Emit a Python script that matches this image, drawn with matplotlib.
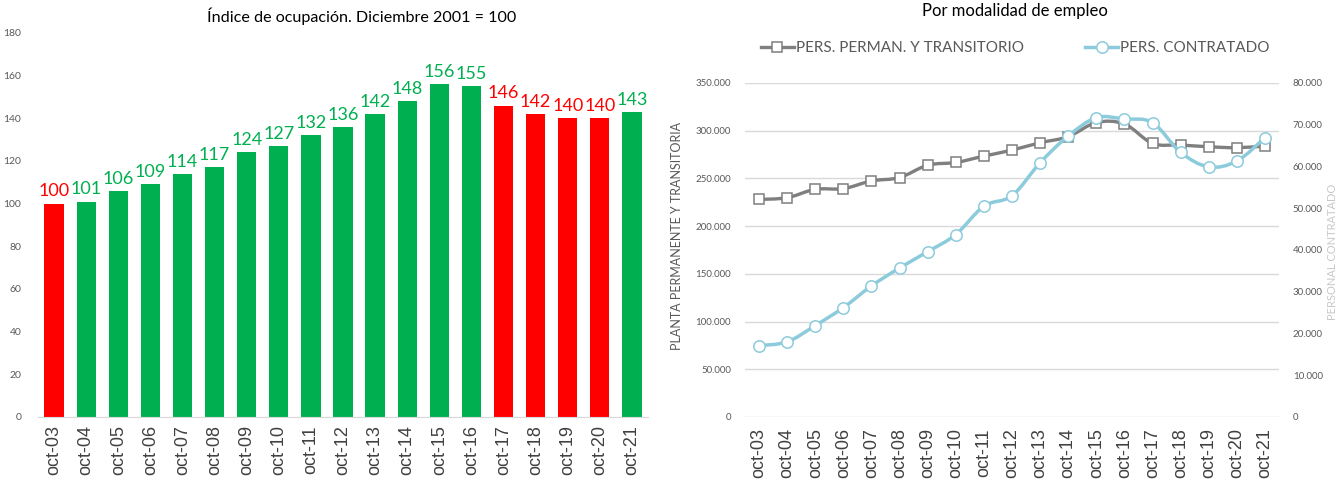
import matplotlib
matplotlib.use("Agg")
import matplotlib.pyplot as plt
import numpy as np
from matplotlib.path import Path
from matplotlib.patches import PathPatch
from matplotlib.ticker import FuncFormatter
from matplotlib.lines import Line2D

# datos
periodos = ["oct-03", "oct-04", "oct-05", "oct-06", "oct-07", "oct-08", "oct-09", "oct-10",
            "oct-11", "oct-12", "oct-13", "oct-14", "oct-15", "oct-16", "oct-17", "oct-18",
            "oct-19", "oct-20", "oct-21"]
indice = [100, 101, 106, 109, 114, 117, 124, 127, 132, 136, 142, 148, 156, 155, 146, 142, 140, 140, 143]
baja = [True, False, False, False, False, False, False, False, False, False, False, False,
        False, False, True, True, True, True, False]  # en rojo

perm_trans = [228000, 229800, 238600, 239300, 247400, 250900, 263900, 266700, 273400, 279700,
              287400, 293800, 308500, 307100, 286700, 285000, 283200, 282200, 283900]
contratado = [17100, 18000, 21900, 26200, 31400, 35700, 39600, 43700, 50500, 53000,
              60900, 67300, 71700, 71400, 70500, 63400, 59900, 61300, 66900]

VERDE = "#00B050"
ROJO = "#FF0000"
GRIS = "#7F7F7F"
CELESTE = "#8CCBDB"
TXT = "#595959"
FONT = ["Lato", "DejaVu Sans"]
FONT_X = ["Liberation Sans", "DejaVu Sans"]

plt.rcParams['font.family'] = FONT


def miles(v, pos=None):
    return f"{int(round(v)):,}".replace(",", ".")


def curva(ax, xs, ys, color, lw):
    # linea suavizada tipo excel (bezier por los puntos)
    pts = np.column_stack([xs, ys]).astype(float)
    n = len(pts)
    verts = [pts[0]]
    codes = [Path.MOVETO]
    for i in range(n - 1):
        p0 = pts[i - 1] if i > 0 else pts[i]
        p1 = pts[i]
        p2 = pts[i + 1]
        p3 = pts[i + 2] if i + 2 < n else pts[i + 1]
        verts += [p1 + (p2 - p0) / 6, p2 - (p3 - p1) / 6, p2]
        codes += [Path.CURVE4] * 3
    patch = PathPatch(Path(verts, codes), facecolor="none", edgecolor=color, lw=lw,
                      capstyle="round", joinstyle="round", zorder=3)
    ax.add_patch(patch)


fig = plt.figure(figsize=(13.4, 4.92), dpi=100)
W, H = 1340, 492

# ---- grafico izquierdo: indice
ax1 = fig.add_axes([38 / W, 1 - 417 / H, 610 / W, 384 / H])
x = np.arange(len(periodos))
colores = [ROJO if b else VERDE for b in baja]
ax1.bar(x, indice, width=0.6, color=colores, zorder=2)
for xi, v, c in zip(x, indice, colores):
    ax1.text(xi, v + 2.0, str(v), ha="center", va="bottom", color=c, fontsize=13)
ax1.set_xlim(-0.5, len(periodos) - 0.5)
ax1.set_ylim(0, 180)
ax1.set_yticks(range(0, 181, 20))
ax1.set_xticks(x)
ax1.set_xticklabels(periodos, rotation=90, fontsize=13, color="#404040", family=FONT_X)
for s in ["top", "right", "left"]:
    ax1.spines[s].set_visible(False)
ax1.spines["bottom"].set_color("#D9D9D9")
ax1.tick_params(axis="both", length=0)
ax1.tick_params(axis="y", labelsize=7.5, labelcolor=TXT, pad=12)
ax1.tick_params(axis="x", pad=6)
fig.text(362 / W, 1 - 16 / H, "Índice de ocupación. Diciembre 2001 = 100", ha="center", va="center",
         fontsize=11.6, color="#000000")

# ---- grafico derecho: modalidad de empleo
ax2 = fig.add_axes([745 / W, 1 - 417 / H, 534 / W, 334 / H])
ax3 = ax2.twinx()
ax2.set_xlim(-0.5, len(periodos) - 0.5)
ax2.set_ylim(0, 350000)
ax3.set_ylim(0, 80000)
ax2.set_yticks(range(0, 350001, 50000))
ax3.set_yticks(range(0, 80001, 10000))
ax2.yaxis.set_major_formatter(FuncFormatter(miles))
ax3.yaxis.set_major_formatter(FuncFormatter(miles))
ax2.grid(axis="y", color="#D9D9D9", lw=1)
ax2.set_axisbelow(True)
for a in (ax2, ax3):
    for s in a.spines.values():
        s.set_visible(False)
    a.tick_params(axis="both", length=0)
    a.tick_params(axis="y", labelsize=7, labelcolor=TXT, pad=10)
ax2.set_xticks(x)
ax2.set_xticklabels(periodos, rotation=90, fontsize=13, color="#404040", family=FONT_X)
ax2.tick_params(axis="x", pad=8)

curva(ax2, x, perm_trans, GRIS, 2.4)
ax2.plot(x, perm_trans, ls="none", marker="s", ms=7.5, mfc="white", mec=GRIS, mew=1.1, zorder=4)
curva(ax3, x, contratado, CELESTE, 2.5)
ax3.plot(x, contratado, ls="none", marker="o", ms=8.2, mfc="white", mec=CELESTE, mew=1.1, zorder=4)

ax2.set_ylabel("PLANTA PERMANENTE Y TRANSITORIA", fontsize=9, color=TXT)
ax2.yaxis.set_label_coords(-62 / 534, (417 - 236) / 334)
# eje derecho: en el original queda casi fuera del borde
fig.text(1338 / W, 1 - 252 / H, "PERSONAL CONTRATADO", rotation=90, ha="right", va="center",
         fontsize=8, color="#C8C8C8")

fig.text(1015 / W, 1 - 11 / H, "Por modalidad de empleo", ha="center", va="center",
         fontsize=12, color="#000000")

h1 = Line2D([], [], color=GRIS, lw=2.4, marker="s", ms=7.5, mfc="white", mec=GRIS, mew=1.1)
h2 = Line2D([], [], color=CELESTE, lw=2.5, marker="o", ms=8.2, mfc="white", mec=CELESTE, mew=1.1)
fig.legend([h1, h2], ["PERS. PERMAN. Y TRANSITORIO", "PERS. CONTRATADO"], loc="center",
           bbox_to_anchor=(1015 / W, 1 - 48 / H), ncol=2, frameon=False, fontsize=11,
           labelcolor=TXT, handlelength=2.2, handletextpad=0.1, columnspacing=4.0)

fig.savefig("out.png", dpi=100)
